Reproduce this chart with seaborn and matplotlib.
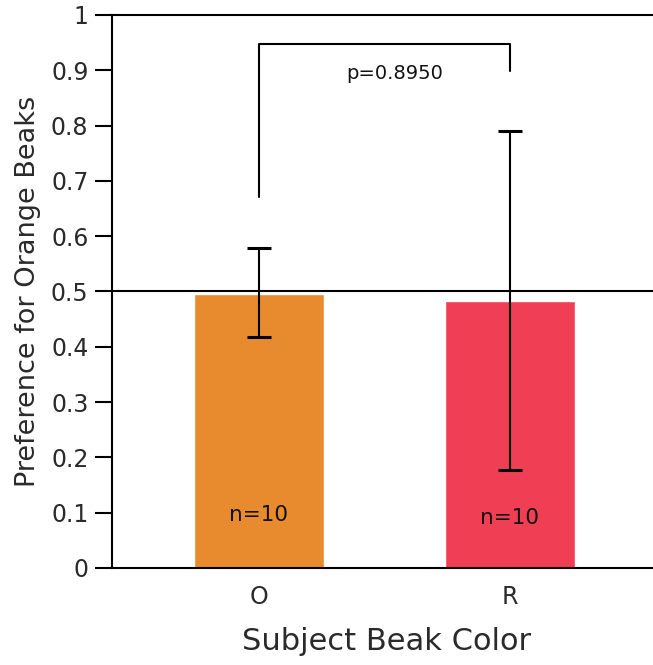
import matplotlib
matplotlib.use('Agg')
import matplotlib.pyplot as plt
import seaborn as sns
import pandas as pd

sns.set_theme(style="white")
plt.rcParams['font.family'] = ['DejaVu Sans']

# data
beak_colors = ['O', 'R']
preference = [0.495, 0.483]
err_low = [0.418, 0.177]
err_high = [0.579, 0.790]
n_labels = ['n=10', 'n=10']
bar_colors = ['#E88B2E', '#F03E55']
p_text = 'p=0.8950'

df = pd.DataFrame({'color': beak_colors, 'pref': preference})

fig = plt.figure(figsize=(6.53, 6.65), dpi=100)
ax = fig.add_axes([0.1715, 0.146, 0.84, 0.8315])

sns.barplot(data=df, x='color', y='pref', hue='color', palette=bar_colors,
            width=0.52, errorbar=None, legend=False, ax=ax, saturation=1)

#error bars
lower = [p - lo for p, lo in zip(preference, err_low)]
upper = [hi - p for p, hi in zip(preference, err_high)]
eb = ax.errorbar(x=range(len(beak_colors)), y=preference, yerr=[lower, upper],
                 fmt='none', ecolor='black', elinewidth=1.5, capsize=8.5, capthick=2.2)
for cap in eb[1]:
    cap.set_color('#3a3a3a')

#reference line at 0.5
ax.axhline(0.5, color='black', lw=1.5, zorder=1)

#significance bracket
ax.plot([0, 0, 1, 1], [0.671, 0.947, 0.947, 0.899], color='black', lw=1.5)
ax.text(0.542, 0.895, p_text, ha='center', va='center', fontsize=14, color='#111111')

for i, t in enumerate(n_labels):
    ax.text(i, 0.095 - 0.005 * i, t, ha='center', va='center', fontsize=15.5, color='#111111')

ax.set_xlim(-0.5857, 1.6)
ax.set_ylim(0, 1)
ax.set_yticks([i / 10 for i in range(11)])
ax.set_yticklabels(['0'] + ['0.%d' % i for i in range(1, 10)] + ['1'])

for s in ['left', 'bottom', 'top']:
    ax.spines[s].set_color('black')
    ax.spines[s].set_linewidth(1.5)
ax.spines['right'].set_visible(False)

ax.tick_params(axis='y', direction='out', length=12, width=1.5, colors='black',
               labelsize=17, labelcolor='#2a2a2a', left=True, pad=5)
ax.tick_params(axis='x', length=0, labelsize=17, labelcolor='#2a2a2a', pad=12)

ax.set_xlabel('Subject Beak Color', fontsize=22, color='#2a2a2a', labelpad=13)
ax.set_ylabel('Preference for Orange Beaks', fontsize=19.5, color='#2a2a2a', labelpad=7)

plt.savefig('out.png', dpi=100)
